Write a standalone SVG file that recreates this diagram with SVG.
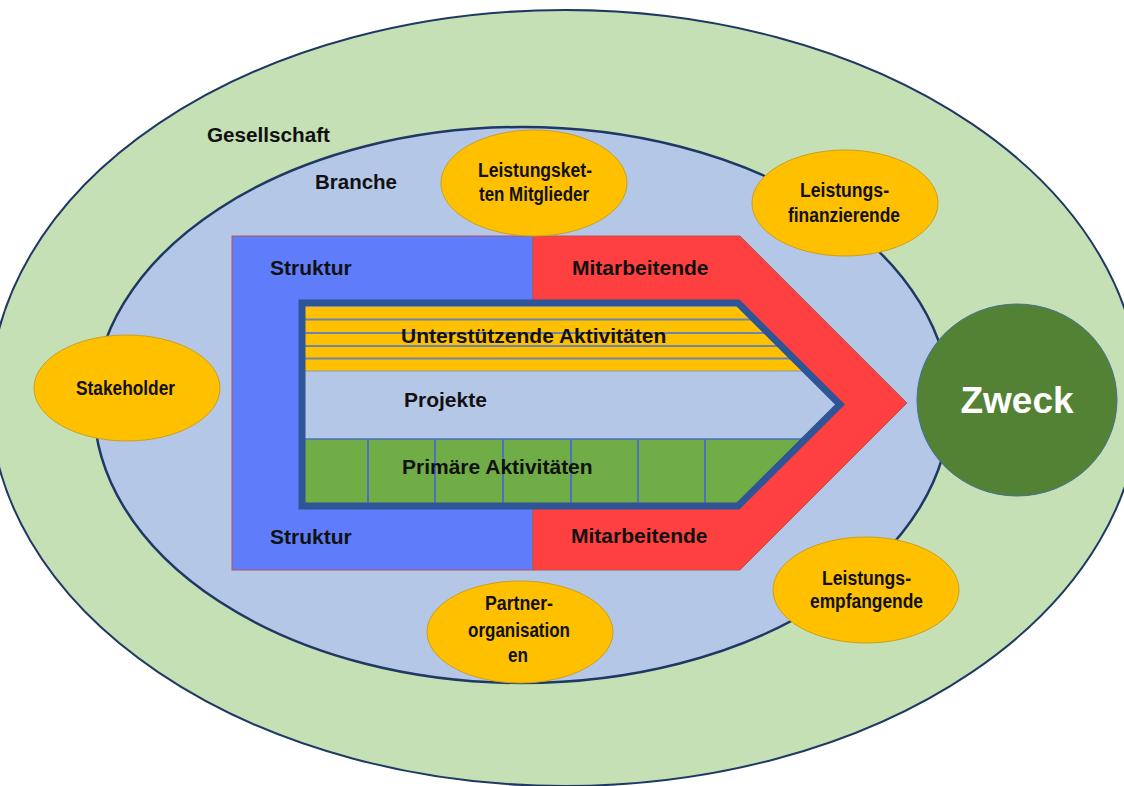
<svg xmlns="http://www.w3.org/2000/svg" width="1124" height="786" viewBox="0 0 1124 786">
<style>
text{font-family:"Liberation Sans",Arial,sans-serif;font-weight:bold;fill:#111}
.big{font-size:21px}
.lbl{font-size:20px}
.el{font-size:20px}
.yel{fill:#FFC000;stroke:#C9A020;stroke-width:1}
.stripe{stroke:#6B85AD;stroke-width:2}
.vline{stroke:#4A72C0;stroke-width:2}
</style>
<defs>
<clipPath id="inner"><polygon points="302,303 738,303 840,404.5 738,506 302,506"/></clipPath>
</defs>
<rect width="1124" height="786" fill="#ffffff"/>
<g id="gesellschaft">
<ellipse cx="565" cy="398" rx="575" ry="388" fill="#C5E0B4" stroke="#1F3864" stroke-width="2"/>
<text class="lbl" x="207" y="142" textLength="123" lengthAdjust="spacingAndGlyphs">Gesellschaft</text>
</g>
<g id="branche">
<ellipse cx="522" cy="405" rx="428" ry="278" fill="#B4C7E7" stroke="#1F3864" stroke-width="2.5"/>
<text class="lbl" x="315" y="189" textLength="82" lengthAdjust="spacingAndGlyphs">Branche</text>
</g>
<g id="zweck">
<ellipse cx="1017" cy="400" rx="100" ry="96" fill="#548235" stroke="#41719C" stroke-width="1"/>
<text x="1017" y="413" text-anchor="middle" style="font-size:37px;fill:#ffffff">Zweck</text>
</g>
<g id="struktur">
<rect x="232" y="236" width="301" height="334" fill="#5F7DFB" stroke="#B85450" stroke-width="1"/>
<text class="big" x="270" y="275">Struktur</text>
<text class="big" x="270" y="544">Struktur</text>
</g>
<g id="mitarbeitende">
<polygon points="533,236 740,236 907,403 740,570 533,570" fill="#FF4040" stroke="#B85450" stroke-width="1"/>
<text class="big" x="572" y="275">Mitarbeitende</text>
<text class="big" x="571" y="543">Mitarbeitende</text>
</g>
<g id="projekte">
<polygon points="302,303 738,303 840,404.5 738,506 302,506" fill="#B4C7E7"/>
<g clip-path="url(#inner)">
<rect x="300" y="307" width="560" height="64" fill="#FFC000"/>
<line class="stripe" x1="300" y1="319.5" x2="860" y2="319.5"/>
<line class="stripe" x1="300" y1="333" x2="860" y2="333"/>
<line class="stripe" x1="300" y1="346" x2="860" y2="346"/>
<line class="stripe" x1="300" y1="358.5" x2="860" y2="358.5"/>
<line x1="300" y1="371" x2="860" y2="371" stroke="#8A9AB0" stroke-width="1"/>
<rect x="300" y="439" width="560" height="66" fill="#70AD47"/>
<line x1="300" y1="439" x2="860" y2="439" stroke="#4A72C0" stroke-width="1.5"/>
<line class="vline" x1="368" y1="439" x2="368" y2="506"/>
<line class="vline" x1="435" y1="439" x2="435" y2="506"/>
<line class="vline" x1="503" y1="439" x2="503" y2="506"/>
<line class="vline" x1="571" y1="439" x2="571" y2="506"/>
<line class="vline" x1="638" y1="439" x2="638" y2="506"/>
<line class="vline" x1="705" y1="439" x2="705" y2="506"/>
</g>
<polygon points="302,303 738,303 840,404.5 738,506 302,506" fill="none" stroke="#2F5597" stroke-width="7"/>
<text class="big" x="401" y="343">Unterstützende Aktivitäten</text>
<text class="big" x="404" y="407">Projekte</text>
<text class="big" x="402" y="474">Primäre Aktivitäten</text>
</g>
<g id="leistungsketten">
<ellipse class="yel" cx="534" cy="183" rx="93" ry="53"/>
<text class="el" x="478" y="177" textLength="114" lengthAdjust="spacingAndGlyphs">Leistungsket-</text>
<text class="el" x="479" y="201" textLength="110" lengthAdjust="spacingAndGlyphs">ten Mitglieder</text>
</g>
<g id="finanzierende">
<ellipse class="yel" cx="845" cy="203" rx="93" ry="53"/>
<text class="el" x="800" y="197" textLength="89" lengthAdjust="spacingAndGlyphs">Leistungs-</text>
<text class="el" x="788" y="222" textLength="112" lengthAdjust="spacingAndGlyphs">finanzierende</text>
</g>
<g id="stakeholder">
<ellipse class="yel" cx="127" cy="388" rx="93" ry="53"/>
<text class="el" x="76" y="395" textLength="99" lengthAdjust="spacingAndGlyphs">Stakeholder</text>
</g>
<g id="empfangende">
<ellipse class="yel" cx="866" cy="590" rx="93" ry="53"/>
<text class="el" x="822" y="585" textLength="89" lengthAdjust="spacingAndGlyphs">Leistungs-</text>
<text class="el" x="810" y="608" textLength="113" lengthAdjust="spacingAndGlyphs">empfangende</text>
</g>
<g id="partner">
<ellipse class="yel" cx="520" cy="632" rx="93" ry="51"/>
<text class="el" x="485" y="610" textLength="68" lengthAdjust="spacingAndGlyphs">Partner-</text>
<text class="el" x="468" y="637" textLength="102" lengthAdjust="spacingAndGlyphs">organisation</text>
<text class="el" x="508" y="662" textLength="20" lengthAdjust="spacingAndGlyphs">en</text>
</g>
<g id="connectors"></g>
</svg>
